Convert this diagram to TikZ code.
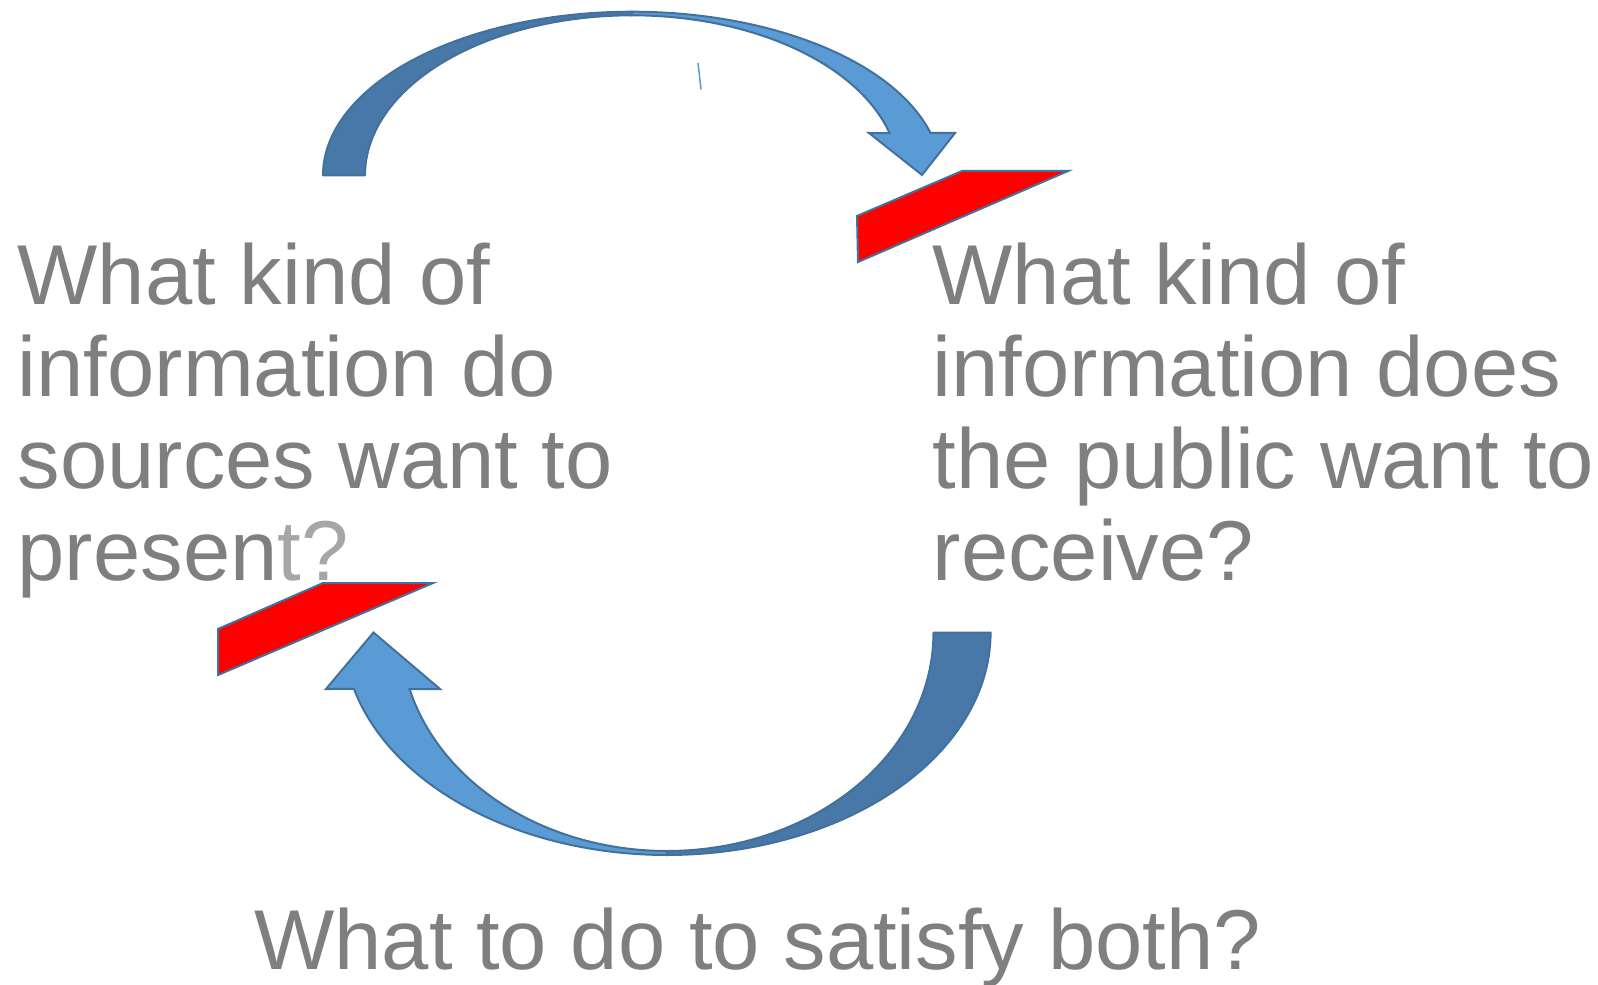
\documentclass[tikz,border=0pt]{standalone}
\usepackage{fontspec}
\setmainfont{Liberation Sans}
\definecolor{txtgray}{HTML}{7F7F7F}
\definecolor{txtlight}{HTML}{A6A6A6}
\definecolor{arrdark}{HTML}{4878A8}
\definecolor{arrlight}{HTML}{5B9BD5}
\definecolor{arrline}{HTML}{41719C}
\definecolor{redfill}{HTML}{FF0000}
\begin{document}
\begin{tikzpicture}[x=0.5pt,y=-0.5pt,
  darkpart/.style={fill=arrdark,draw=arrline,line width=1pt,line join=round},
  lightpart/.style={fill=arrlight,draw=arrline,line width=1pt,line join=miter},
  redshape/.style={fill=redfill,draw=arrline,line width=1pt,line join=miter},
  txt/.style={anchor=base west,inner sep=0pt,outer sep=0pt,text=txtgray,
    font=\fontsize{42.5}{46}\selectfont}]
\useasboundingbox (0,0) rectangle (1598,984);
% top curved arrow
\draw[lightpart] plot[domain=90:15,samples=60] ({632+309*cos(\x)},{175.3-163.6*sin(\x)})
  -- (955,133) -- (922,175) -- (869,133)
  -- plot[domain=15.3:90,samples=60] ({632+267*cos(\x)},{175.3-160*sin(\x)}) -- cycle;
\draw[darkpart] plot[domain=180:90,samples=60] ({632+309*cos(\x)},{175.3-163.6*sin(\x)})
  -- plot[domain=90:180,samples=60] ({632+267*cos(\x)},{175.3-160*sin(\x)}) -- cycle;
% bottom curved arrow
\draw[lightpart] plot[domain=90:165.3,samples=60] ({667+323.6*cos(\x)},{632.5+222.5*sin(\x)})
  -- (326,689) -- (373.5,632.5) -- (440,689)
  -- plot[domain=165:90,samples=60] ({667+266.5*cos(\x)},{632.5+218.5*sin(\x)}) -- cycle;
\draw[darkpart] plot[domain=0:90,samples=60] ({667+323.6*cos(\x)},{632.5+222.5*sin(\x)})
  -- plot[domain=90:0,samples=60] ({667+266.5*cos(\x)},{632.5+218.5*sin(\x)}) -- cycle;
% small stray line
\draw[arrlight,line width=0.75pt] (698,63) -- (701,89.5);
% red shapes
\draw[redshape] (857,216) -- (962,171) -- (1068,171) -- (858,262) -- cycle;
\draw[redshape] (218,629) -- (323,583) -- (433,583) -- (218,675) -- cycle;
% texts
\node[txt] (l1) at (17.7,304) {What kind of};
\node[txt] (l2) at (17.7,396) {information do};
\node[txt] (l3) at (17.7,488) {sources want to};
\node[txt] (l4) at (17.7,580) {presen\textcolor{txtlight}{t?}};
\node[txt] (r1) at (932.7,304) {What kind of};
\node[txt] (r2) at (932.7,396) {information does};
\node[txt] (r3) at (932.7,488) {the public want to};
\node[txt] (r4) at (932.7,580) {receive?};
\node[txt] (b1) at (254.4,969) {What to do to satisfy both?};
\end{tikzpicture}
\end{document}
